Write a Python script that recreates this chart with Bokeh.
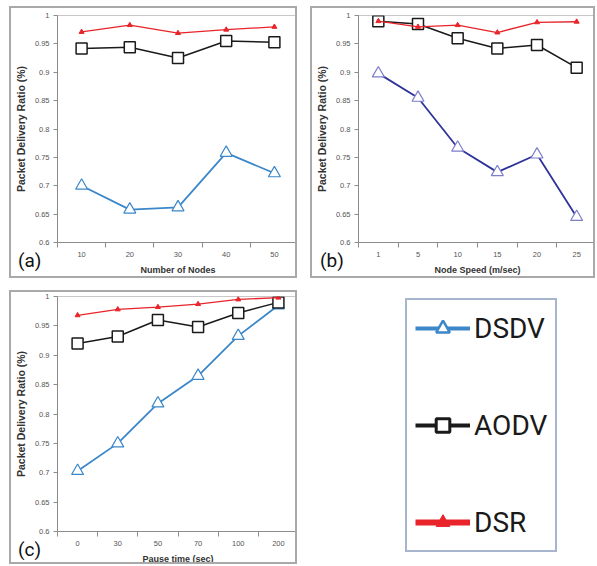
from bokeh.plotting import figure
from bokeh.models import Range1d, FixedTicker, NumeralTickFormatter, Legend, LegendItem, Div
from bokeh.layouts import row, column
from bokeh.embed import file_html
from bokeh.resources import INLINE

# ---------------- data ----------------
y_label = "Packet Delivery Ratio (%)"
y_ticks = [0.6, 0.65, 0.7, 0.75, 0.8, 0.85, 0.9, 0.95, 1.0]

a_cats = ["10", "20", "30", "40", "50"]
a_dsdv = [0.700, 0.658, 0.662, 0.758, 0.722]
a_aodv = [0.942, 0.944, 0.925, 0.955, 0.953]
a_dsr = [0.971, 0.983, 0.969, 0.975, 0.980]

b_cats = ["1", "5", "10", "15", "20", "25"]
b_dsdv = [0.898, 0.855, 0.767, 0.724, 0.755, 0.645]
b_aodv = [0.990, 0.985, 0.960, 0.942, 0.948, 0.908]
b_dsr = [0.990, 0.980, 0.983, 0.970, 0.988, 0.989]

c_cats = ["0", "30", "50", "70", "100", "200"]
c_dsdv = [0.703, 0.750, 0.818, 0.865, 0.933, 0.985]
c_aodv = [0.920, 0.932, 0.960, 0.948, 0.972, 0.990]
c_dsr = [0.968, 0.978, 0.982, 0.987, 0.995, 0.998]

series_names = ["DSDV", "AODV", "DSR"]
panel_tags = ["(a)", "(b)", "(c)"]

BLUE = "#3b87c9"
DARKBLUE = "#30339a"
LAVENDER = "#7d7dca"
BLACK = "#1a1a1a"
RED = "#e8242a"
BORDER = "2px solid #a9a9a9"


def panel(cats, dsdv, aodv, dsr, xlabel, w, h, line_c, mark_c, mb):
    n = len(cats)
    xs = [i + 0.5 for i in range(n)]
    p = figure(width=w, height=h, x_range=Range1d(0, n), y_range=Range1d(0.6, 1.0),
               output_backend="svg", toolbar_location=None,
               min_border_left=mb[0], min_border_right=mb[1],
               min_border_top=mb[2], min_border_bottom=mb[3])
    p.styles = {"border": BORDER, "box-sizing": "border-box"}
    p.grid.visible = False
    p.outline_line_color = "#c8c8c8"
    p.background_fill_color = "white"
    p.border_fill_color = "white"

    xa = p.xaxis[0]
    xa.ticker = FixedTicker(ticks=xs, minor_ticks=list(range(n + 1)))
    xa.major_label_overrides = {x: c for x, c in zip(xs, cats)}
    xa.major_tick_out = 0
    xa.major_tick_in = 0
    xa.minor_tick_out = 5
    xa.minor_tick_in = 0
    xa.axis_label = xlabel
    xa.axis_label_text_font_size = "9px"
    xa.axis_label_standoff = 5
    ya = p.yaxis[0]
    ya.ticker = FixedTicker(ticks=y_ticks)
    ya.formatter = NumeralTickFormatter(format="0.[00]")
    ya.major_tick_out = 4
    ya.major_tick_in = 0
    ya.minor_tick_out = 0
    ya.minor_tick_in = 0
    ya.axis_label = y_label
    ya.axis_label_text_font_size = "10.5px"
    ya.axis_label_standoff = 5
    for ax in (xa, ya):
        ax.axis_line_color = "#8c8c8c"
        ax.major_tick_line_color = "#8c8c8c"
        ax.minor_tick_line_color = "#8c8c8c"
        ax.major_label_text_font = "Liberation Sans"
        ax.major_label_text_font_size = "7.5px"
        ax.major_label_text_color = "#555555"
        ax.major_label_standoff = 4
        ax.axis_label_text_font = "Liberation Sans"
        ax.axis_label_text_font_style = "bold"
        ax.axis_label_text_color = "#333333"

    p.line(xs, dsdv, color=line_c, line_width=1.8)
    p.scatter(xs, dsdv, marker="triangle", size=12, line_color=mark_c, line_width=1.2,
              fill_color="white")
    p.line(xs, aodv, color=BLACK, line_width=1.5)
    p.scatter(xs, aodv, marker="square", size=11, line_color=BLACK, line_width=1.5,
              fill_color="white")
    p.line(xs, dsr, color=RED, line_width=1.3)
    p.scatter(xs, dsr, marker="triangle", size=5, line_color=RED, fill_color=RED)
    return p


pa = panel(a_cats, a_dsdv, a_aodv, a_dsr, "Number of Nodes", 288, 272,
           BLUE, BLUE, (36, 1, 7, 38))
pb = panel(b_cats, b_dsdv, b_aodv, b_dsr, "Node Speed (m/sec)", 285, 272,
           DARKBLUE, LAVENDER, (37, 1, 6, 38))
pc = panel(c_cats, c_dsdv, c_aodv, c_dsr, "Pause time (sec)", 288, 274,
           BLUE, BLUE, (38, 1, 4, 34))

# ---------------- legend panel ----------------
pl = figure(width=285, height=274, x_range=Range1d(0, 1), y_range=Range1d(5, 6),
            output_backend="svg", toolbar_location=None,
            x_axis_location=None, y_axis_location=None,
            min_border_left=95, min_border_right=0, min_border_top=8, min_border_bottom=0)
pl.grid.visible = False
pl.outline_line_color = None
pl.background_fill_color = "white"
pl.border_fill_color = "white"
lx = [i / len(c_cats) for i in range(len(c_cats))]
r1l = pl.line(lx, c_dsdv, color=BLUE, line_width=4)
r1s = pl.scatter(lx, c_dsdv, marker="triangle", size=13, line_color=BLUE, line_width=2.5,
                 fill_color="white")
r2l = pl.line(lx, c_aodv, color=BLACK, line_width=4)
r2s = pl.scatter(lx, c_aodv, marker="square", size=13, line_color=BLACK, line_width=3,
                 fill_color="white")
r3l = pl.line(lx, c_dsr, color=RED, line_width=6)
r3s = pl.scatter(lx, c_dsr, marker="triangle", size=14, line_color=RED, fill_color=RED)

legend = Legend(items=[
    LegendItem(label=series_names[0], renderers=[r1l, r1s]),
    LegendItem(label=series_names[1], renderers=[r2l, r2s]),
    LegendItem(label=series_names[2], renderers=[r3l, r3s]),
], location="top_left")
legend.label_text_font = "Roboto"
legend.label_text_font_size = "28px"
legend.label_text_color = "#1a1a1a"
legend.label_height = 40
legend.glyph_width = 55
legend.glyph_height = 34
legend.label_standoff = 4
legend.spacing = 57
legend.padding = 8
legend.margin = 0
legend.border_line_color = "#4f6d9a"
legend.border_line_width = 2
legend.background_fill_color = "white"
pl.add_layout(legend)

legend_box = column(pl, styles={"position": "absolute", "left": "301px", "top": "284px"})


def tag_div(text, left, top):
    return Div(text=text, width=30, height=22,
               styles={"position": "absolute", "left": f"{left}px", "top": f"{top}px",
                       "font-family": "Roboto", "font-size": "19px", "line-height": "1",
                       "color": "#111111", "z-index": "10"})


root = column(row(pa, pb, spacing=13), row(pc), legend_box,
              tag_div(panel_tags[0], 4, 240), tag_div(panel_tags[1], 306, 240),
              tag_div(panel_tags[2], 4, 529),
              spacing=12, margin=(6, 0, 0, 9), styles={"position": "relative"})

open("out.html", "w").write(file_html(root, INLINE))
